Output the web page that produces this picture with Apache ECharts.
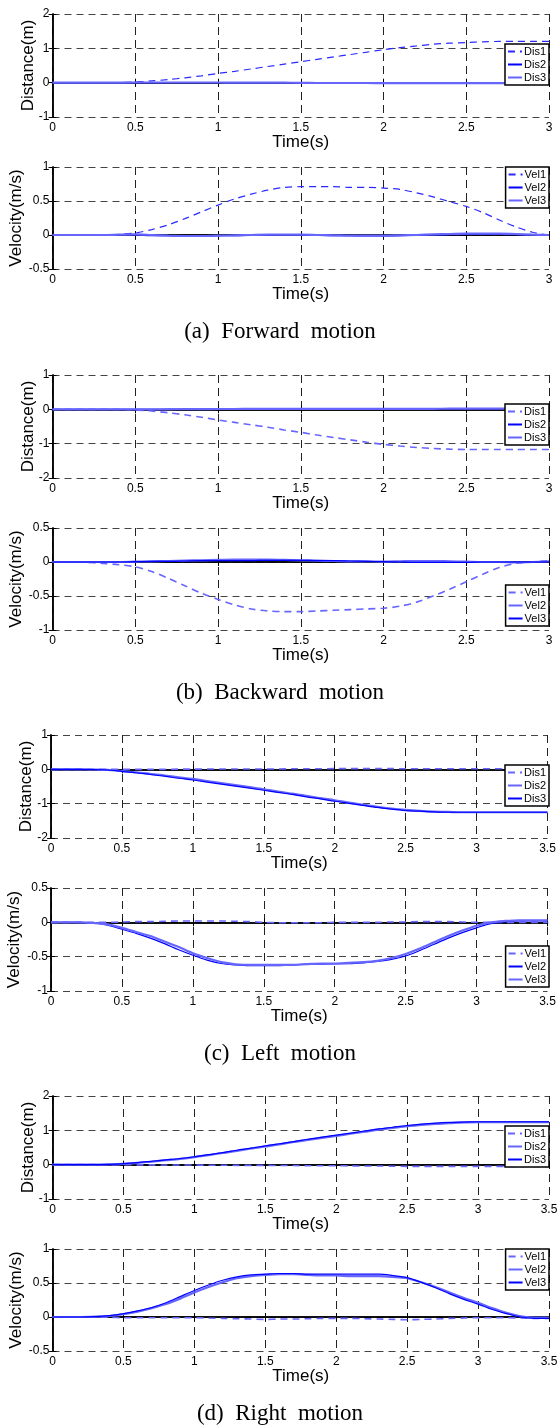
<!DOCTYPE html>
<html>
<head>
<meta charset="utf-8">
<script src="https://cdn.jsdelivr.net/npm/echarts@6/dist/echarts.min.js"></script>
<style>
  html, body { margin: 0; padding: 0; background: #fff; }
  #chart { width: 560px; height: 1428px; }
</style>
</head>
<body>
<div id="chart"></div>
<script>
// time bases (s)
const tShort = [0,0.1,0.2,0.3,0.4,0.5,0.6,0.7,0.8,0.9,1.0,1.1,1.2,1.3,1.4,1.5,1.6,1.7,1.8,1.9,2.0,2.1,2.2,2.3,2.4,2.5,2.6,2.7,2.8,2.9,3.0];
const tLong = [0,0.1,0.2,0.3,0.4,0.5,0.6,0.7,0.8,0.9,1.0,1.1,1.2,1.3,1.4,1.5,1.6,1.7,1.8,1.9,2.0,2.1,2.2,2.3,2.4,2.5,2.6,2.7,2.8,2.9,3.0,3.1,3.2,3.3,3.4,3.5];

// (a) forward
const aDis1 = [0,0,0,0,0.005,0.02,0.05,0.09,0.14,0.2,0.27,0.33,0.4,0.47,0.54,0.61,0.68,0.75,0.82,0.89,0.96,1.02,1.07,1.12,1.15,1.17,1.19,1.2,1.2,1.2,1.2];
const aDis2 = [0,0,0,0,0,0,0,0,0,0,0,0,0,0,0,0,-0.005,-0.005,-0.01,-0.01,-0.01,-0.01,-0.01,-0.01,-0.01,-0.01,-0.01,-0.01,-0.01,-0.01,-0.01];
const aDis3 = [0,0,0,0,0,0.005,0.005,0.005,0.005,0.005,0.005,0,0,0,0,-0.005,-0.01,-0.01,-0.01,-0.01,-0.015,-0.015,-0.015,-0.015,-0.015,-0.015,-0.015,-0.015,-0.015,-0.015,-0.015];
const aVel1 = [0,0,0,0,0.01,0.03,0.08,0.15,0.24,0.34,0.44,0.53,0.6,0.66,0.7,0.71,0.71,0.71,0.7,0.7,0.69,0.67,0.62,0.56,0.49,0.42,0.33,0.22,0.12,0.04,0];
const aVel2 = [0,0,0,0,0,0,-0.01,-0.01,-0.01,-0.01,-0.01,-0.01,-0.005,0,0,0,-0.005,-0.01,-0.01,-0.015,-0.015,-0.01,-0.005,0,0.005,0.01,0.01,0.01,0.005,0,0];
const aVel3 = [0,0,0,0,0.005,0.01,0,-0.01,-0.015,-0.015,-0.01,-0.005,0,0.005,0.005,0.005,0,-0.005,-0.01,-0.01,-0.01,-0.005,0,0.01,0.015,0.02,0.02,0.02,0.015,0.005,0];

// (b) backward
const bDis1 = [0,0,0,0,0,-0.02,-0.05,-0.1,-0.16,-0.23,-0.31,-0.38,-0.45,-0.52,-0.6,-0.67,-0.75,-0.82,-0.89,-0.96,-1.02,-1.07,-1.11,-1.14,-1.16,-1.17,-1.17,-1.17,-1.17,-1.17,-1.17];
const bDis2 = [0,0,0,0,0,0,0,0.005,0.01,0.01,0.015,0.015,0.02,0.02,0.02,0.02,0.02,0.02,0.02,0.02,0.02,0.02,0.02,0.02,0.02,0.02,0.02,0.02,0.02,0.02,0.02];
const bDis3 = [0,0,0,0,0,0,0,0,0.005,0.005,0.01,0.01,0.015,0.015,0.015,0.015,0.015,0.015,0.015,0.015,0.015,0.015,0.015,0.015,0.02,0.02,0.02,0.02,0.02,0.02,0.02];
const bVel1 = [0,0,-0.005,-0.02,-0.04,-0.07,-0.14,-0.24,-0.35,-0.46,-0.55,-0.63,-0.69,-0.72,-0.73,-0.73,-0.72,-0.71,-0.7,-0.69,-0.68,-0.65,-0.59,-0.5,-0.4,-0.29,-0.18,-0.08,-0.02,0,0.02];
const bVel2 = [0,0,0,0,0,0.005,0.01,0.015,0.02,0.025,0.03,0.035,0.035,0.035,0.03,0.025,0.02,0.015,0.01,0.01,0.005,0.01,0.015,0.015,0.01,0.005,0,0,-0.005,0,0.01];
const bVel3 = [0,0,0,0,0,0.005,0.01,0.01,0.015,0.02,0.02,0.02,0.02,0.025,0.025,0.025,0.02,0.02,0.015,0.01,0.005,0,-0.005,-0.005,-0.005,-0.005,0,0,0,0,0];

// (c) left
const cDis1 = [0,0,0,0,0,0,0,0,0,0.005,0.005,0.01,0.01,0.01,0.01,0.01,0.01,0.015,0.015,0.015,0.02,0.02,0.02,0.02,0.02,0.015,0.015,0.015,0.015,0.015,0.015,0.015,0.015,0.015,0.015,0.015];
const cDis2 = [0,0,0,-0.005,-0.015,-0.05,-0.09,-0.13,-0.18,-0.23,-0.28,-0.34,-0.4,-0.46,-0.52,-0.58,-0.65,-0.71,-0.77,-0.84,-0.9,-0.97,-1.03,-1.09,-1.14,-1.18,-1.21,-1.23,-1.24,-1.25,-1.25,-1.25,-1.25,-1.25,-1.25,-1.25];
const cDis3 = [0,0,0,-0.005,-0.02,-0.06,-0.1,-0.15,-0.2,-0.26,-0.31,-0.37,-0.43,-0.49,-0.55,-0.61,-0.67,-0.73,-0.8,-0.86,-0.93,-0.99,-1.05,-1.11,-1.16,-1.2,-1.22,-1.24,-1.25,-1.25,-1.25,-1.25,-1.25,-1.25,-1.25,-1.25];
const cVel1 = [0,0,0,0,0,0.005,0.01,0.01,0.015,0.02,0.02,0.02,0.02,0.015,0.01,0,-0.005,-0.005,-0.005,-0.005,0,0,0,0,0.005,0.005,0.01,0.01,0.01,0.005,0,0,0,0,0,0];
const cVel2 = [0,0,0,-0.01,-0.04,-0.1,-0.16,-0.23,-0.31,-0.4,-0.48,-0.55,-0.6,-0.62,-0.63,-0.63,-0.63,-0.62,-0.61,-0.61,-0.6,-0.6,-0.59,-0.57,-0.54,-0.49,-0.41,-0.32,-0.23,-0.15,-0.08,-0.02,0.01,0.02,0.02,0.02];
const cVel3 = [0,0,0,-0.01,-0.03,-0.08,-0.14,-0.2,-0.28,-0.36,-0.45,-0.52,-0.58,-0.61,-0.62,-0.62,-0.62,-0.62,-0.61,-0.6,-0.6,-0.59,-0.58,-0.56,-0.52,-0.46,-0.38,-0.29,-0.2,-0.12,-0.05,0,0.02,0.03,0.03,0.03];

// (d) right
const dDis1 = [0,0,0,0,0,0,-0.005,-0.005,-0.01,-0.01,-0.01,-0.015,-0.015,-0.02,-0.02,-0.02,-0.025,-0.025,-0.03,-0.03,-0.03,-0.035,-0.04,-0.04,-0.045,-0.05,-0.05,-0.05,-0.05,-0.05,-0.05,-0.05,-0.05,-0.05,-0.05,-0.05];
const dDis2 = [0,0,0,0,0.01,0.025,0.05,0.09,0.13,0.17,0.22,0.28,0.34,0.4,0.47,0.53,0.59,0.66,0.72,0.78,0.84,0.9,0.96,1.02,1.07,1.12,1.16,1.19,1.21,1.23,1.24,1.24,1.24,1.24,1.24,1.24];
const dDis3 = [0,0,0,0,0.01,0.03,0.06,0.1,0.14,0.18,0.23,0.29,0.35,0.42,0.48,0.55,0.61,0.67,0.74,0.8,0.86,0.92,0.98,1.04,1.09,1.14,1.18,1.21,1.23,1.24,1.25,1.25,1.25,1.25,1.25,1.25];
const dVel1 = [0,0,0,0,-0.005,-0.01,-0.01,-0.01,-0.01,-0.01,-0.01,-0.015,-0.02,-0.025,-0.03,-0.035,-0.03,-0.03,-0.025,-0.02,-0.02,-0.02,-0.025,-0.03,-0.035,-0.04,-0.035,-0.03,-0.02,-0.015,-0.01,-0.01,-0.01,-0.015,-0.02,-0.02];
const dVel2 = [0,0,0,0.005,0.015,0.04,0.08,0.13,0.19,0.27,0.36,0.44,0.51,0.57,0.6,0.62,0.63,0.63,0.62,0.61,0.61,0.6,0.6,0.6,0.59,0.57,0.51,0.44,0.36,0.28,0.21,0.13,0.06,0.01,-0.01,-0.01];
const dVel3 = [0,0,0,0.005,0.02,0.05,0.09,0.14,0.21,0.3,0.39,0.47,0.54,0.59,0.62,0.63,0.64,0.64,0.63,0.63,0.63,0.63,0.63,0.63,0.61,0.58,0.51,0.43,0.34,0.26,0.19,0.11,0.05,0,-0.02,-0.02];

const captions = ['(a)  Forward  motion', '(b)  Backward  motion', '(c)  Left  motion', '(d)  Right  motion'];

const styles = {
  dark: { color: '#0000ff', width: 1.2, type: 'solid' },
  light: { color: '#6666ff', width: 2.2, type: 'solid' },
  dashDark: { color: '#2a2aff', width: 1.2, type: [7, 5] },
  dashLight: { color: '#6666ff', width: 1.6, type: [7, 5] }
};

const panels = [
  { top: 14, height: 103, left: 52.5, right: 11, t: tShort, xMax: 3, yMin: -1, yMax: 2, yInt: 1, yName: 'Distance(m)', gap: 16, legendTop: 44,
    lines: [['Dis1', aDis1, 'dashDark'], ['Dis2', aDis2, 'dark'], ['Dis3', aDis3, 'light']] },
  { top: 167, height: 102, left: 52.5, right: 11, t: tShort, xMax: 3, yMin: -0.5, yMax: 1, yInt: 0.5, yName: 'Velocity(m/s)', gap: 28, legendTop: 167,
    lines: [['Vel1', aVel1, 'dashDark'], ['Vel2', aVel2, 'dark'], ['Vel3', aVel3, 'light']] },
  { top: 375, height: 103, left: 52.5, right: 11, t: tShort, xMax: 3, yMin: -2, yMax: 1, yInt: 1, yName: 'Distance(m)', gap: 16, legendTop: 404,
    lines: [['Dis1', bDis1, 'dashLight'], ['Dis2', bDis2, 'dark'], ['Dis3', bDis3, 'light']] },
  { top: 528, height: 102, left: 52.5, right: 11, t: tShort, xMax: 3, yMin: -1, yMax: 0.5, yInt: 0.5, yName: 'Velocity(m/s)', gap: 28, legendTop: 585,
    lines: [['Vel1', bVel1, 'dashLight'], ['Vel2', bVel2, 'light'], ['Vel3', bVel3, 'dark']] },
  { top: 735, height: 103, left: 51, right: 12.5, t: tLong, xMax: 3.5, yMin: -2, yMax: 1, yInt: 1, yName: 'Distance(m)', gap: 16, legendTop: 765,
    lines: [['Dis1', cDis1, 'dashLight'], ['Dis2', cDis2, 'light'], ['Dis3', cDis3, 'dark']] },
  { top: 888, height: 103, left: 51, right: 12.5, t: tLong, xMax: 3.5, yMin: -1, yMax: 0.5, yInt: 0.5, yName: 'Velocity(m/s)', gap: 28, legendTop: 946,
    lines: [['Vel1', cVel1, 'dashLight'], ['Vel2', cVel2, 'dark'], ['Vel3', cVel3, 'light']] },
  { top: 1096, height: 103, left: 52.5, right: 11, t: tLong, xMax: 3.5, yMin: -1, yMax: 2, yInt: 1, yName: 'Distance(m)', gap: 16, legendTop: 1126,
    lines: [['Dis1', dDis1, 'dashLight'], ['Dis2', dDis2, 'light'], ['Dis3', dDis3, 'dark']] },
  { top: 1249, height: 102, left: 52.5, right: 11, t: tLong, xMax: 3.5, yMin: -0.5, yMax: 1, yInt: 0.5, yName: 'Velocity(m/s)', gap: 28, legendTop: 1249,
    lines: [['Vel1', dVel1, 'dashLight'], ['Vel2', dVel2, 'light'], ['Vel3', dVel3, 'dark']] }
];
const captionTops = [320, 681, 1042, 1402];

const font = 'Liberation Sans, Arial, sans-serif';
const grid = [], xAxis = [], yAxis = [], series = [], legend = [];

panels.forEach((p, i) => {
  grid.push({ left: p.left, right: p.right, top: p.top, height: p.height, show: false,
    containLabel: false, outerBoundsMode: 'none' });
  const frame = { show: true, lineStyle: { color: '#000', width: 1.5 } };
  const tick = { show: true, inside: true, length: 4, lineStyle: { color: '#000' } };
  xAxis.push({
    gridIndex: i, type: 'value', min: 0, max: p.xMax, interval: 0.5,
    axisLine: frame, axisTick: tick,
    axisLabel: { color: '#000', fontSize: 12, fontFamily: font, margin: 5 },
    splitLine: { show: true, lineStyle: { color: '#222', width: 1, type: [8, 5] } },
    name: 'Time(s)', nameLocation: 'middle', nameGap: 17, nameMoveOverlap: false,
    nameTextStyle: { color: '#000', fontSize: 17, fontFamily: font }
  });
  xAxis.push({
    gridIndex: i, type: 'value', position: 'top', min: 0, max: p.xMax, interval: 0.5,
    axisLine: frame, axisTick: tick, axisLabel: { show: false }, splitLine: { show: false }
  });
  yAxis.push({
    gridIndex: i, type: 'value', min: p.yMin, max: p.yMax, interval: p.yInt,
    axisLine: frame, axisTick: tick,
    axisLabel: { color: '#000', fontSize: 12, fontFamily: font, margin: 3 },
    splitLine: { show: true, lineStyle: { color: '#444', width: 1, type: [7, 5] } },
    name: p.yName, nameLocation: 'middle', nameGap: p.gap, nameMoveOverlap: false,
    nameTextStyle: { color: '#000', fontSize: 17, fontFamily: font }
  });
  yAxis.push({
    gridIndex: i, type: 'value', position: 'right', min: p.yMin, max: p.yMax, interval: p.yInt,
    axisLine: frame, axisTick: tick, axisLabel: { show: false }, splitLine: { show: false }
  });
  const names = [];
  p.lines.forEach(([label, vals, key]) => {
    const st = styles[key];
    const name = i + ':' + label;
    names.push(name);
    series.push({
      name, type: 'line', xAxisIndex: i * 2, yAxisIndex: i * 2,
      data: p.t.map((x, k) => [x, vals[k]]),
      showSymbol: false, symbol: 'none', smooth: 0.3,
      lineStyle: { color: st.color, width: st.width, type: st.type },
      itemStyle: { color: st.color },
      z: 3
    });
  });
  legend.push({
    data: names, orient: 'vertical', right: 11, top: p.legendTop,
    formatter: n => n.split(':')[1],
    itemWidth: 14, itemHeight: 8, itemGap: 2,
    padding: [2, 3, 2, 2],
    itemStyle: { opacity: 0 },
    backgroundColor: '#fff', borderColor: '#000', borderWidth: 1.5, borderRadius: 0,
    textStyle: { color: '#000', fontSize: 11, fontFamily: font, padding: [0, 0, 0, -3] },
    selectedMode: false
  });
});

const title = captions.map((c, i) => ({
  text: c, left: 'center', top: captionTops[i], padding: 0,
  textStyle: { fontFamily: 'Liberation Serif, Times New Roman, serif', fontWeight: 'normal', fontSize: 23, color: '#000' }
}));

const chart = echarts.init(document.getElementById('chart'), null, { renderer: 'canvas' });
chart.setOption({
  animation: false,
  backgroundColor: '#fff',
  title, grid, xAxis, yAxis, series, legend
});
</script>
</body>
</html>
